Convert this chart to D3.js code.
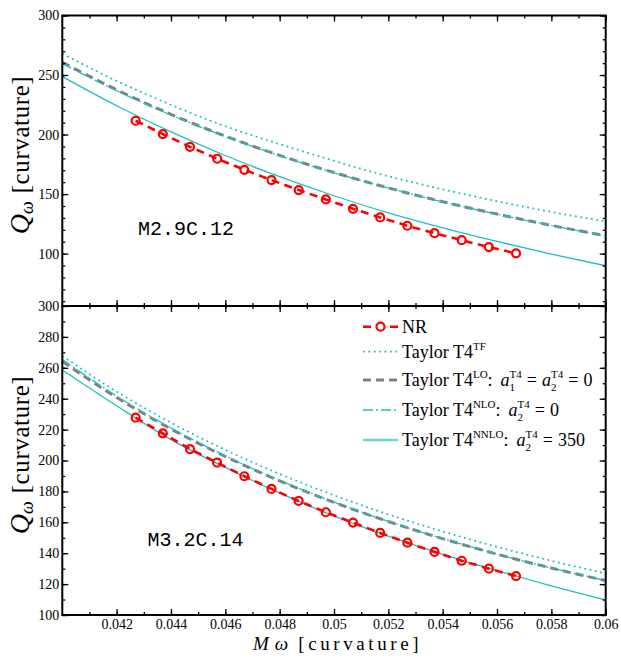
<!DOCTYPE html>
<html>
<head>
<meta charset="utf-8">
<script src="https://cdn.jsdelivr.net/npm/d3@7"></script>
<style>
  html, body { margin: 0; padding: 0; background: #fff; }
  svg { display: block; }
</style>
</head>
<body>
<svg id="chart" width="621" height="658"></svg>
<script>
// ---- data ----------------------------------------------------------------
// frequency grid for the Taylor T4 model curves
const omegaGrid = [0.040, 0.042, 0.044, 0.046, 0.048, 0.050, 0.052, 0.054, 0.056, 0.058, 0.060];
// frequencies of the numerical-relativity samples
const nrOmega = [0.0427, 0.0437, 0.0447, 0.0457, 0.0467, 0.0477, 0.0487, 0.0497,
                 0.0507, 0.0517, 0.0527, 0.0537, 0.0547, 0.0557, 0.0567];

// M2.9C.12
const nrTop   = [211.6, 200.4, 189.7, 179.7, 170.4, 161.8, 153.4, 145.5, 137.6, 130.4, 123.4, 117.2, 111.3, 105.5, 100.2];
const tfTop   = [268.0, 245.0, 225.0, 207.0, 192.0, 178.0, 165.0, 154.0, 144.0, 135.0, 127.0];
const loTop   = [260.7, 237.6, 217.0, 198.7, 182.5, 168.1, 155.2, 143.6, 133.2, 123.7, 115.0];
const nloTop  = [259.6, 236.8, 216.4, 198.3, 182.2, 167.9, 155.1, 143.5, 133.1, 123.6, 114.9];
const nnloTop = [248.6, 224.2, 202.2, 182.4, 164.6, 148.6, 134.2, 121.6, 110.2, 99.6, 89.8];

// M3.2C.14
const nrBot   = [227.7, 217.6, 207.4, 198.6, 189.8, 181.6, 173.8, 166.5, 159.8, 153.1, 146.8, 140.8, 135.1, 130.0, 125.2];
const tfBot   = [267.6, 244.6, 224.5, 206.9, 191.3, 177.5, 165.1, 154.1, 144.1, 135.1, 126.9];
const loBot   = [264.2, 240.8, 220.4, 202.6, 186.8, 172.9, 160.5, 149.4, 139.4, 130.4, 122.3];
const nloBot  = [265.4, 241.7, 221.0, 203.0, 187.1, 173.1, 160.6, 149.5, 139.4, 130.4, 122.3];
const nnloBot = [258.6, 235.4, 213.5, 195.5, 179.0, 164.0, 151.0, 139.3, 128.8, 118.8, 109.7];

// axis ticks
const xTicks      = [0.042, 0.044, 0.046, 0.048, 0.050, 0.052, 0.054, 0.056, 0.058, 0.060];
const xTickLabels = ["0.042", "0.044", "0.046", "0.048", "0.05", "0.052", "0.054", "0.056", "0.058", "0.06"];
const yTopTicks   = [100, 150, 200, 250, 300];
const yBotTicks   = [100, 120, 140, 160, 180, 200, 220, 240, 260, 280, 300];

const panelNames = ["M2.9C.12", "M3.2C.14"];

// ---- layout --------------------------------------------------------------
const SERIF = "'Liberation Serif', 'Times New Roman', 'DejaVu Serif', serif";
const MONO = "'Liberation Mono', 'Courier New', monospace";
const CYAN = "#1fbfbf", GRAY = "#808080", RED = "#ff0000";

const svg = d3.select("#chart");
const left = 62.3, right = 605.7;
const x = d3.scaleLinear().domain([0.040, 0.060]).range([left, right]);
const yTop = d3.scaleLinear().domain([56, 300]).range([306, 15.5]);
const yBot = d3.scaleLinear().domain([100, 300]).range([615, 306]);

const zip = (xs, ys) => xs.map((v, i) => [v, ys[i]]);

// lays out a run of text pieces (sub/superscripts, italics) left to right
function rich(g, x0, y0, parts, base) {
  let cx = x0, prevX = x0, prevW = 0;
  parts.forEach(p => {
    if (p.gap) { cx += p.gap; return; }
    const size = p.size || base;
    const px = p.over ? prevX : cx;
    const t = g.append("text")
      .attr("x", px).attr("y", y0 + (p.dy || 0))
      .attr("font-family", SERIF)
      .attr("font-size", size)
      .attr("font-style", p.it ? "italic" : "normal")
      .attr("fill", "#000")
      .text(p.t);
    if (p.ls) t.attr("letter-spacing", p.ls);
    const w = t.node().getComputedTextLength();
    if (p.over) {
      prevW = Math.max(prevW, w);
      cx = prevX + prevW;
    } else {
      prevX = px; prevW = w; cx = px + w;
    }
  });
  return cx - x0;
}

function drawPanel(y, yTicks, yMinorStep, data, name, nameX, nameY, id, showXLabels, titleY) {
  const [y0, y1] = y.range();           // bottom, top in pixels
  const g = svg.append("g");

  g.append("clipPath").attr("id", id)
    .append("rect").attr("x", left).attr("y", y1).attr("width", right - left).attr("height", y0 - y1);

  const plot = g.append("g").attr("clip-path", `url(#${id})`);
  const line = d3.line().x(d => x(d[0])).y(d => y(d[1])).curve(d3.curveMonotoneX);

  plot.append("path").datum(zip(omegaGrid, data.tf)).attr("d", line)
    .attr("fill", "none").attr("stroke", CYAN).attr("stroke-width", 1.8).attr("stroke-dasharray", "1.8,3.6");
  plot.append("path").datum(zip(omegaGrid, data.lo)).attr("d", line)
    .attr("fill", "none").attr("stroke", GRAY).attr("stroke-width", 3).attr("stroke-dasharray", "8,5");
  plot.append("path").datum(zip(omegaGrid, data.nlo)).attr("d", line)
    .attr("fill", "none").attr("stroke", CYAN).attr("stroke-width", 1.3).attr("stroke-dasharray", "10,3,2,3");
  plot.append("path").datum(zip(omegaGrid, data.nnlo)).attr("d", line)
    .attr("fill", "none").attr("stroke", CYAN).attr("stroke-width", 1.3);

  const nr = zip(nrOmega, data.nr);
  plot.append("path").datum(nr).attr("d", d3.line().x(d => x(d[0])).y(d => y(d[1])))
    .attr("fill", "none").attr("stroke", RED).attr("stroke-width", 2.6).attr("stroke-dasharray", "8,5.5");
  plot.selectAll("circle.nr").data(nr).join("circle")
    .attr("cx", d => x(d[0])).attr("cy", d => y(d[1])).attr("r", 4)
    .attr("fill", "none").attr("stroke", RED).attr("stroke-width", 2.2);

  // ticks, all pointing into the frame
  const yMinor = d3.range(Math.ceil(y.domain()[0] / yMinorStep) * yMinorStep, 300.001, yMinorStep);
  const xMinor = d3.range(0.041, 0.0600001, 0.001);
  const styleAxis = a => {
    a.select(".domain").remove();
    a.selectAll("line").attr("stroke", "#000").attr("stroke-width", 1.3);
    a.selectAll("text").attr("font-family", SERIF).attr("font-size", 14).attr("fill", "#000");
  };

  g.append("g").attr("transform", `translate(${left},0)`)
    .call(d3.axisLeft(y).tickValues(yMinor).tickSize(-3).tickFormat("")).call(styleAxis);
  g.append("g").attr("transform", `translate(${left},0)`)
    .call(d3.axisLeft(y).tickValues(yTicks).tickSize(-6).tickPadding(3).tickFormat(d3.format("d"))).call(styleAxis);
  g.append("g").attr("transform", `translate(${right},0)`)
    .call(d3.axisRight(y).tickValues(yMinor).tickSize(-3).tickFormat("")).call(styleAxis);
  g.append("g").attr("transform", `translate(${right},0)`)
    .call(d3.axisRight(y).tickValues(yTicks).tickSize(-6).tickFormat("")).call(styleAxis);

  g.append("g").attr("transform", `translate(0,${y1})`)
    .call(d3.axisTop(x).tickValues(xMinor).tickSize(-3).tickFormat("")).call(styleAxis);
  g.append("g").attr("transform", `translate(0,${y1})`)
    .call(d3.axisTop(x).tickValues(xTicks).tickSize(-6).tickFormat("")).call(styleAxis);
  g.append("g").attr("transform", `translate(0,${y0})`)
    .call(d3.axisBottom(x).tickValues(xMinor).tickSize(-3).tickFormat("")).call(styleAxis);
  g.append("g").attr("transform", `translate(0,${y0})`)
    .call(d3.axisBottom(x).tickValues(xTicks).tickSize(-6).tickPadding(4)
      .tickFormat((d, i) => showXLabels ? xTickLabels[i] : "")).call(styleAxis);

  g.append("rect").attr("x", left).attr("y", y1).attr("width", right - left).attr("height", y0 - y1)
    .attr("fill", "none").attr("stroke", "#000").attr("stroke-width", 2);

  g.append("text").attr("x", nameX).attr("y", nameY)
    .attr("font-family", MONO).attr("font-size", 20).attr("fill", "#000").text(name);

  // y-axis title, rotated
  const yl = g.append("g").attr("transform", `translate(29,${titleY}) rotate(-90)`);
  const inner = yl.append("g");
  const w = rich(inner, 0, 0, [
    { t: "Q", it: true, size: 28 },
    { t: "ω", it: true, size: 18, dy: 4 },
    { gap: 8 },
    { t: "[curvature]", size: 25, ls: 0.6 }
  ], 25);
  inner.attr("transform", `translate(${-w / 2},0)`);
}

drawPanel(yTop, yTopTicks, 10,
  { nr: nrTop, tf: tfTop, lo: loTop, nlo: nloTop, nnlo: nnloTop },
  panelNames[0], 138, 235, "clipTop", false, 155);
drawPanel(yBot, yBotTicks, 10,
  { nr: nrBot, tf: tfBot, lo: loBot, nlo: nloBot, nnlo: nnloBot },
  panelNames[1], 147.5, 545.5, "clipBot", true, 455);

// x-axis title
const xt = svg.append("text").attr("x", 253).attr("y", 650)
  .attr("font-family", SERIF).attr("font-size", 19).attr("fill", "#000");
xt.append("tspan").attr("font-style", "italic").text("M");
xt.append("tspan").attr("font-style", "italic").attr("dx", 6).text("ω");
xt.append("tspan").attr("dx", 10).attr("letter-spacing", 3.6).text("[curvature]");

// ---- legend --------------------------------------------------------------
const legend = svg.append("g");
const lx0 = 363, lx1 = 398, tx = 402;
const rowsY = [326.7, 351.7, 380, 410, 440];
const SUP = { size: 11, dy: -8 }, SUB = { size: 11, dy: 5 };
const legendRows = [
  { stroke: RED, width: 2.6, dash: "8,5.5", marker: true,
    parts: [{ t: "NR" }] },
  { stroke: CYAN, width: 1.8, dash: "1.8,3.6",
    parts: [{ t: "Taylor T4" }, { t: "TF", ...SUP }] },
  { stroke: GRAY, width: 3, dash: "8,5",
    parts: [{ t: "Taylor T4" }, { t: "LO", ...SUP }, { t: ":" }, { gap: 8 },
            { t: "a", it: true }, { t: "1", ...SUB }, { t: "T4", ...SUP, over: true },
            { gap: 5 }, { t: "=" }, { gap: 5 },
            { t: "a", it: true }, { t: "2", ...SUB }, { t: "T4", ...SUP, over: true },
            { gap: 5 }, { t: "=" }, { gap: 5 }, { t: "0" }] },
  { stroke: CYAN, width: 1.3, dash: "10,3,2,3",
    parts: [{ t: "Taylor T4" }, { t: "NLO", ...SUP }, { t: ":" }, { gap: 8 },
            { t: "a", it: true }, { t: "2", ...SUB }, { t: "T4", ...SUP, over: true },
            { gap: 5 }, { t: "=" }, { gap: 5 }, { t: "0" }] },
  { stroke: CYAN, width: 2.6, dash: null, opacity: 0.65,
    parts: [{ t: "Taylor T4" }, { t: "NNLO", ...SUP }, { t: ":" }, { gap: 8 },
            { t: "a", it: true }, { t: "2", ...SUB }, { t: "T4", ...SUP, over: true },
            { gap: 5 }, { t: "=" }, { gap: 5 }, { t: "350" }] }
];

legendRows.forEach((r, i) => {
  const yy = rowsY[i];
  const ln = legend.append("line").attr("x1", lx0).attr("x2", lx1).attr("y1", yy).attr("y2", yy)
    .attr("stroke", r.stroke).attr("stroke-width", r.width)
    .attr("stroke-opacity", r.opacity || 1);
  if (r.dash) ln.attr("stroke-dasharray", r.dash);
  if (r.marker) {
    legend.append("circle").attr("cx", (lx0 + lx1) / 2).attr("cy", yy).attr("r", 4)
      .attr("fill", "#fff").attr("stroke", RED).attr("stroke-width", 2.2);
  }
  rich(legend, tx, yy + 6, r.parts, 18);
});
</script>
</body>
</html>
